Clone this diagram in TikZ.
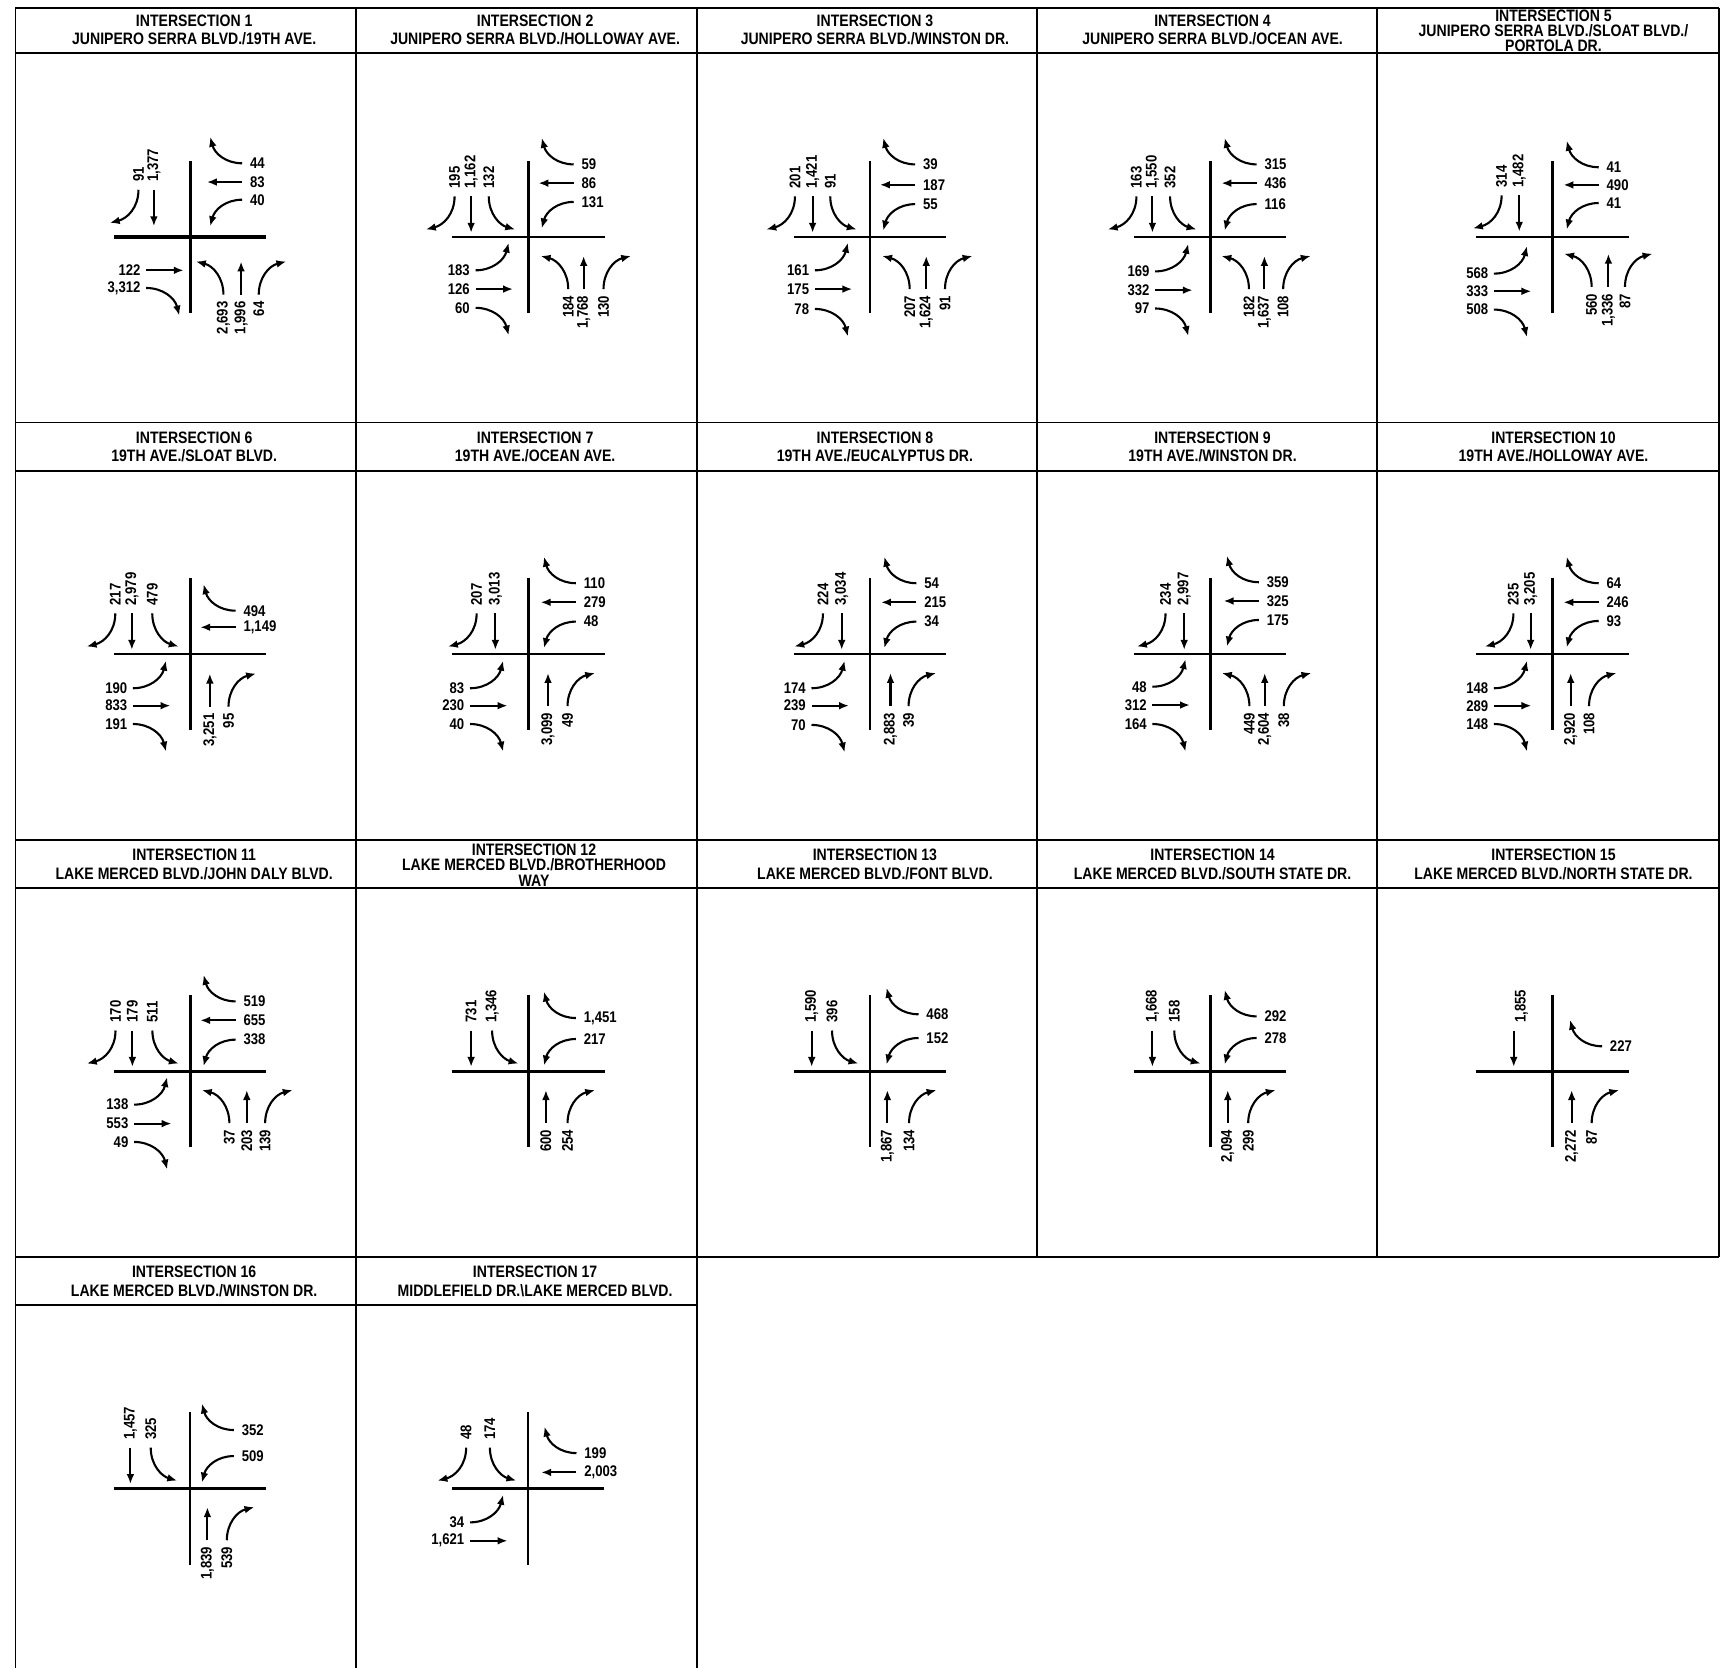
\documentclass[tikz,border=0pt]{standalone}
\usepackage{fontspec}
\usetikzlibrary{arrows.meta}
\newfontfamily\trafam[FakeStretch=0.85]{Liberation Sans}
\newcommand{\hdrfont}{\trafam\bfseries\fontsize{15pt}{17pt}\selectfont}
\newcommand{\hdrfontt}{\trafam\bfseries\fontsize{15pt}{13.8pt}\selectfont}
\newcommand{\labfont}{\trafam\bfseries\fontsize{14pt}{15pt}\selectfont}
\newcounter{lblc}
\newcommand{\mklab}[3]{\stepcounter{lblc}\node[lab,#1] (lbl\arabic{lblc}) at #2 {#3};}
\def\sbs{-37}\def\wbs{42}\def\ebs{-50}\def\nbs{47}
% southbound (top left)
\newcommand{\mvSR}[2]{\draw[mv] (#1,\sbs) .. controls (#1,\sbs+16) and (#1-10,\sbs+26) .. (#1-26,\sbs+30);\mklab{rotate=90,anchor=west}{(#1,\sbs-7)}{#2}}
\newcommand{\mvST}[2]{\draw[mv] (#1,\sbs) -- (#1,\sbs+33);\mklab{rotate=90,anchor=west}{(#1,\sbs-7)}{#2}}
\newcommand{\mvSL}[2]{\draw[mv] (#1,\sbs) .. controls (#1,\sbs+16) and (#1+10,\sbs+26) .. (#1+24,\sbs+30);\mklab{rotate=90,anchor=west}{(#1,\sbs-7)}{#2}}
% westbound (top right)
\newcommand{\mvWR}[2]{\draw[mv] (\wbs,#1) .. controls (\wbs-15,#1) and (\wbs-25,#1-9) .. (\wbs-29,#1-24);\mklab{anchor=west}{(\wbs+7,#1)}{#2}}
\newcommand{\mvWT}[2]{\draw[mv] (\wbs,#1) -- (\wbs-32,#1);\mklab{anchor=west}{(\wbs+7,#1)}{#2}}
\newcommand{\mvWL}[2]{\draw[mv] (\wbs,#1) .. controls (\wbs-15,#1) and (\wbs-25,#1+9) .. (\wbs-29,#1+24);\mklab{anchor=west}{(\wbs+7,#1)}{#2}}
% eastbound (bottom left)
\newcommand{\mvEL}[2]{\draw[mv] (\ebs,#1) .. controls (\ebs+15,#1) and (\ebs+26,#1-9) .. (\ebs+30,#1-25);\mklab{anchor=east}{(\ebs-5,#1)}{#2}}
\newcommand{\mvET}[2]{\draw[mv] (\ebs,#1) -- (\ebs+34,#1);\mklab{anchor=east}{(\ebs-5,#1)}{#2}}
\newcommand{\mvER}[2]{\draw[mv] (\ebs,#1) .. controls (\ebs+15,#1) and (\ebs+26,#1+9) .. (\ebs+30,#1+25);\mklab{anchor=east}{(\ebs-5,#1)}{#2}}
% northbound (bottom right)
\newcommand{\mvNL}[2]{\draw[mv] (#1,\nbs) .. controls (#1,\nbs-15) and (#1-9,\nbs-26) .. (#1-25,\nbs-30);\mklab{rotate=90,anchor=east}{(#1,\nbs+6)}{#2}}
\newcommand{\mvNT}[2]{\draw[mv] (#1,\nbs) -- (#1,\nbs-30);\mklab{rotate=90,anchor=east}{(#1,\nbs+6)}{#2}}
\newcommand{\mvNR}[2]{\draw[mv] (#1,\nbs) .. controls (#1,\nbs-15) and (#1+9,\nbs-26) .. (#1+25,\nbs-30);\mklab{rotate=90,anchor=east}{(#1,\nbs+6)}{#2}}
\newcommand{\roadcross}[1][2.2pt]{\draw[line width=#1] (-69,0) -- (69,0);\draw[line width=2.2pt] (0,-69) -- (0,69);}
\tikzset{
  mv/.style={line width=1.9pt,-{Latex[length=9pt,width=7pt]}},
  lab/.style={font=\labfont,inner sep=0pt},
  hdr/.style={font=\hdrfont,align=center,inner sep=0pt},
  hdrt/.style={font=\hdrfontt,align=center,inner sep=0pt},
  grid/.style={line width=1.6pt}
}
\begin{document}
\begin{tikzpicture}[x=1pt,y=-1pt]
\useasboundingbox[fill=white] (0,0) rectangle (1568,1512);
% grid
\draw[grid] (14,7) -- (1558,7);
\draw[grid] (14,48) -- (1558,48);
\draw[grid] (14,383) -- (1558,383);
\draw[grid] (14,427) -- (1558,427);
\draw[grid] (14,761) -- (1558,761);
\draw[grid] (14,805) -- (1558,805);
\draw[grid] (14,1139) -- (1558,1139);
\draw[grid] (14,1183) -- (632,1183);
\draw[grid] (14,7) -- (14,1512);
\draw[grid] (323,7) -- (323,1512);
\draw[grid] (632,7) -- (632,1512);
\draw[grid] (940,7) -- (940,1139);
\draw[grid] (1248,7) -- (1248,1139);
\draw[grid] (1558,7) -- (1558,1139);
% headers
\node[hdr] (h1) at (176,27) {INTERSECTION 1\\JUNIPERO SERRA BLVD./19TH AVE.};
\node[hdr] (h2) at (485,27) {INTERSECTION 2\\JUNIPERO SERRA BLVD./HOLLOWAY AVE.};
\node[hdr] (h3) at (793,27) {INTERSECTION 3\\JUNIPERO SERRA BLVD./WINSTON DR.};
\node[hdr] (h4) at (1099,27) {INTERSECTION 4\\JUNIPERO SERRA BLVD./OCEAN AVE.};
\node[hdrt] (h5) at (1408,28) {INTERSECTION 5\\JUNIPERO SERRA BLVD./SLOAT BLVD./\\PORTOLA DR.};
\node[hdr] (h6) at (176,405) {INTERSECTION 6\\19TH AVE./SLOAT BLVD.};
\node[hdr] (h7) at (485,405) {INTERSECTION 7\\19TH AVE./OCEAN AVE.};
\node[hdr] (h8) at (793,405) {INTERSECTION 8\\19TH AVE./EUCALYPTUS DR.};
\node[hdr] (h9) at (1099,405) {INTERSECTION 9\\19TH AVE./WINSTON DR.};
\node[hdr] (h10) at (1408,405) {INTERSECTION 10\\19TH AVE./HOLLOWAY AVE.};
\node[hdr] (h11) at (176,783.5) {INTERSECTION 11\\LAKE MERCED BLVD./JOHN DALY BLVD.};
\node[hdrt] (h12) at (484,784) {INTERSECTION 12\\LAKE MERCED BLVD./BROTHERHOOD\\WAY};
\node[hdr] (h13) at (793,783.5) {INTERSECTION 13\\LAKE MERCED BLVD./FONT BLVD.};
\node[hdr] (h14) at (1099,783.5) {INTERSECTION 14\\LAKE MERCED BLVD./SOUTH STATE DR.};
\node[hdr] (h15) at (1408,783.5) {INTERSECTION 15\\LAKE MERCED BLVD./NORTH STATE DR.};
\node[hdr] (h16) at (176,1161.5) {INTERSECTION 16\\LAKE MERCED BLVD./WINSTON DR.};
\node[hdr] (h17) at (485,1161.5) {INTERSECTION 17\\MIDDLEFIELD DR.\textbackslash LAKE MERCED BLVD.};
% ---------- row 1 ----------
\begin{scope}[shift={(172.5,215)}]
\def\sbs{-43}\def\wbs{47}\def\ebs{-40}\def\nbs{52}
\roadcross[3.2pt]
\mvSR{-47}{91}\mvST{-33}{1,377}
\mvWR{-67}{44}\mvWT{-50}{83}\mvWL{-34}{40}
\mvET{30}{122}\mvER{46}{3,312}
\mvNL{30}{2,693}\mvNT{46}{1,996}\mvNR{62}{64}
\end{scope}
\begin{scope}[shift={(479,215)}]
\def\wbs{41}\def\ebs{-48}
\roadcross
\mvSR{-67}{195}\mvST{-52}{1,162}\mvSL{-36}{132}
\mvWR{-66}{59}\mvWT{-49}{86}\mvWL{-32}{131}
\mvEL{30}{183}\mvET{47}{126}\mvER{64}{60}
\mvNL{36}{184}\mvNT{50}{1,768}\mvNR{68}{130}
\end{scope}
\begin{scope}[shift={(788.5,215)}]
\def\wbs{41}\def\ebs{-50}
\roadcross
\mvSR{-68}{201}\mvST{-52}{1,421}\mvSL{-36}{91}
\mvWR{-66}{39}\mvWT{-47.5}{187}\mvWL{-30}{55}
\mvEL{30}{161}\mvET{47}{175}\mvER{65}{78}
\mvNL{36}{207}\mvNT{51}{1,624}\mvNR{68}{91}
\end{scope}
\begin{scope}[shift={(1097,215)}]
\def\wbs{42}\def\ebs{-50}
\roadcross
\mvSR{-67}{163}\mvST{-52.5}{1,550}\mvSL{-36.5}{352}
\mvWR{-66}{315}\mvWT{-49}{436}\mvWL{-30}{116}
\mvEL{31}{169}\mvET{48}{332}\mvER{64.6}{97}
\mvNL{35}{182}\mvNT{49}{1,637}\mvNR{66}{108}
\end{scope}
\begin{scope}[shift={(1407,215)}]
\def\sbs{-38}\def\wbs{42}\def\ebs{-53}\def\nbs{45}
\roadcross
\mvSR{-46}{314}\mvST{-30}{1,482}
\mvWR{-63.4}{41}\mvWT{-47.4}{490}\mvWL{-31}{41}
\mvEL{33}{568}\mvET{49}{333}\mvER{65.6}{508}
\mvNL{35.6}{560}\mvNT{50.8}{1,336}\mvNR{65.8}{87}
\end{scope}
% ---------- row 2 ----------
\begin{scope}[shift={(172.5,593)}]
\def\wbs{41}\def\ebs{-52}\def\nbs{47.5}
\roadcross
\mvSR{-68}{217}\mvST{-53}{2,979}\mvSL{-34.5}{479}
\mvWR{-39.5}{494}\mvWT{-24.5}{1,149}
\mvEL{30.8}{190}\mvET{46.6}{833}\mvER{63.2}{191}
\mvNT{17.7}{3,251}\mvNR{34.6}{95}
\end{scope}
\begin{scope}[shift={(479,593)}]
\def\wbs{43}\def\ebs{-53}
\roadcross
\mvSR{-47}{207}\mvST{-30}{3,013}
\mvWR{-64.4}{110}\mvWT{-47.1}{279}\mvWL{-29.6}{48}
\mvEL{30.8}{83}\mvET{46.6}{230}\mvER{63.2}{40}
\mvNT{17.7}{3,099}\mvNR{35.4}{49}
\end{scope}
\begin{scope}[shift={(788.5,593)}]
\def\wbs{42}\def\ebs{-53}
\roadcross
\mvSR{-42.6}{224}\mvST{-25.6}{3,034}
\mvWR{-64.4}{54}\mvWT{-47.1}{215}\mvWL{-29.6}{34}
\mvEL{30.8}{174}\mvET{46.6}{239}\mvER{64}{70}
\mvNT{18.6}{2,883}\mvNR{35}{39}
\end{scope}
\begin{scope}[shift={(1097,593)}]
\def\wbs{44}\def\ebs{-52.5}
\roadcross
\mvSR{-40.6}{234}\mvST{-23.7}{2,997}
\mvWR{-65.3}{359}\mvWT{-48.3}{325}\mvWL{-31.1}{175}
\mvEL{29.4}{48}\mvET{46}{312}\mvER{63.2}{164}
\mvNL{35.4}{449}\mvNT{49.3}{2,604}\mvNR{66.6}{38}
\end{scope}
\begin{scope}[shift={(1407,593)}]
\def\wbs{42}\def\ebs{-53}
\roadcross
\mvSR{-35.3}{235}\mvST{-19.7}{3,205}
\mvWR{-64.4}{64}\mvWT{-47.1}{246}\mvWL{-30.2}{93}
\mvEL{30.8}{148}\mvET{46.6}{289}\mvER{63.2}{148}
\mvNT{16.6}{2,920}\mvNR{33.2}{108}
\end{scope}
% ---------- row 3 ----------
\begin{scope}[shift={(172.5,971)}]
\def\wbs{41}\def\ebs{-51}
\roadcross
\mvSR{-67.8}{170}\mvST{-52.5}{179}\mvSL{-34.4}{511}
\mvWR{-63.4}{519}\mvWT{-46.2}{655}\mvWL{-28.7}{338}
\mvEL{30.2}{138}\mvET{47.4}{553}\mvER{64}{49}
\mvNL{35.4}{37}\mvNT{51.2}{203}\mvNR{67.8}{139}
\end{scope}
\begin{scope}[shift={(479,971)}]
\def\wbs{43}
\roadcross
\mvST{-52}{731}\mvSL{-33}{1,346}
\mvWR{-48.3}{1,451}\mvWL{-29.3}{217}
\mvNT{15.8}{600}\mvNR{35.4}{254}
\end{scope}
\begin{scope}[shift={(788.5,971)}]
\def\wbs{44}
\roadcross
\mvST{-52.8}{1,590}\mvSL{-34.4}{396}
\mvWR{-51.7}{468}\mvWL{-30.2}{152}
\mvNT{15.8}{1,867}\mvNR{35.4}{134}
\end{scope}
\begin{scope}[shift={(1097,971)}]
\def\wbs{42}
\roadcross
\mvST{-52.5}{1,668}\mvSL{-32.7}{158}
\mvWR{-49.8}{292}\mvWL{-30.2}{278}
\mvNT{15.8}{2,094}\mvNR{34.3}{299}
\end{scope}
\begin{scope}[shift={(1407,971)}]
\def\wbs{45}
\roadcross
\draw[mv] (-35,\sbs) -- (-35,\sbs+33);
\mklab{rotate=90,anchor=west}{(-28,\sbs-7)}{1,855}
\mvWR{-22.7}{227}
\mvNT{17.5}{2,272}\mvNR{35.6}{87}
\end{scope}
% ---------- row 4 ----------
\begin{scope}[shift={(172,1349)}]
\def\wbs{40}
\roadcross
\mvST{-53.8}{1,457}\mvSL{-35.4}{325}
\mvWR{-52.9}{352}\mvWL{-29.3}{509}
\mvNT{16}{1,839}\mvNR{33.6}{539}
\end{scope}
\begin{scope}[shift={(478.5,1349)}]
\def\wbs{44}\def\ebs{-52.5}
\roadcross
\mvSR{-56}{48}\mvSL{-34.5}{174}
\mvWR{-32}{199}\mvWT{-14.5}{2,003}
\mvEL{30.8}{34}\mvET{47.5}{1,621}
\end{scope}
\end{tikzpicture}
\end{document}
